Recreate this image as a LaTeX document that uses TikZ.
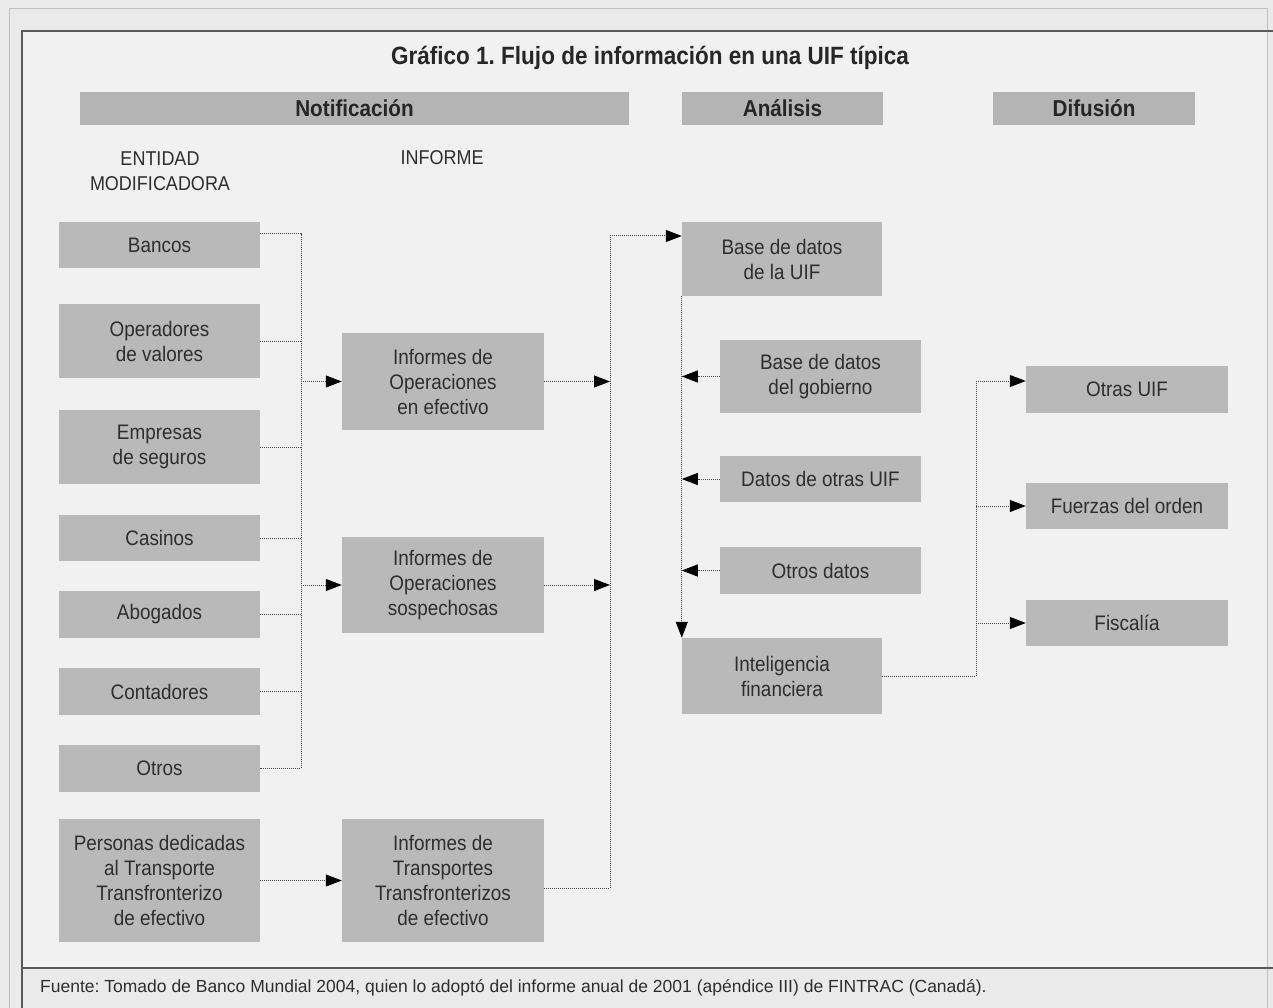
\documentclass[tikz,border=0pt]{standalone}
\usepackage{fontspec}
\setmainfont[FakeStretch=0.9]{Liberation Sans}
\newfontfamily\footfont{Liberation Sans}
\frenchspacing
\usetikzlibrary{arrows.meta}
\definecolor{bg}{HTML}{F1F1F1}
\definecolor{bgout}{HTML}{EAEAEA}
\definecolor{boxfill}{HTML}{B9B9B9}
\definecolor{hdrfill}{HTML}{B4B4B4}
\definecolor{txt}{HTML}{2E2E2E}
\definecolor{frame}{HTML}{5A5A5A}
\definecolor{dotc}{HTML}{4A4A4A}
\tikzset{
  gbox/.style={fill=boxfill, draw=none, inner sep=0pt, align=center, text=txt,
    font=\fontsize{21}{25}\selectfont},
  hdr/.style={fill=hdrfill, draw=none, inner sep=0pt, align=center, text=black!85,
    minimum height=33pt, font=\bfseries\fontsize{23}{27}\selectfont},
  lbl/.style={inner sep=0pt, align=center, text=txt, font=\fontsize{20}{25}\selectfont},
  dl/.style={draw=dotc, line width=1pt, dash pattern=on 1pt off 1pt},
  arr/.style={-{Triangle[length=16pt,width=12pt,color=black,fill=black]}},
}
\begin{document}
\begin{tikzpicture}[x=1pt,y=-1pt]
\useasboundingbox (0,0) rectangle (1273,1008);
% backgrounds and frame
\fill[bgout] (0,0) rectangle (1273,1008);
\draw[black!25, line width=1pt] (9,9) rectangle (1267,1008);
\fill[bg] (22,31) rectangle (1267,968);
\draw[frame, line width=2pt] (1273,31) -- (22,31) -- (22,1008);
\draw[frame, line width=2pt] (22,968) -- (1273,968);

% title
\node[inner sep=0pt, text=black!85, font=\bfseries\fontsize{25}{30}\selectfont] (title) at (650,58) {Gráfico 1. Flujo de información en una UIF típica};

% headers
\node[hdr, minimum width=549pt] (hnot) at (354.5,108.5) {Notificación};
\node[hdr, minimum width=201pt] (hana) at (782.5,108.5) {Análisis};
\node[hdr, minimum width=202pt] (hdif) at (1094,108.5) {Difusión};

% column labels
\node[lbl] (lent) at (160,171) {ENTIDAD\\MODIFICADORA};
\node[lbl] (linf) at (442,158) {INFORME};

% left column
\node[gbox, minimum width=201pt, minimum height=46pt] (bancos) at (159.5,245) {Bancos};
\node[gbox, minimum width=201pt, minimum height=74pt] (operadores) at (159.5,341) {Operadores\\de valores};
\node[gbox, minimum width=201pt, minimum height=74pt] (empresas) at (159.5,447) {Empresas\\de seguros};
\node[gbox, minimum width=201pt, minimum height=46pt] (casinos) at (159.5,538) {Casinos};
\node[gbox, minimum width=201pt, minimum height=47pt] (abogados) at (159.5,614.5) {Abogados};
\node[gbox, minimum width=201pt, minimum height=47pt] (contadores) at (159.5,691.5) {Contadores};
\node[gbox, minimum width=201pt, minimum height=47pt] (otros) at (159.5,768.5) {Otros};
\node[gbox, minimum width=201pt, minimum height=123pt] (personas) at (159.5,880.5) {Personas dedicadas\\al Transporte\\Transfronterizo\\de efectivo};

% middle column
\node[gbox, minimum width=202pt, minimum height=97pt] (ioe) at (443,381.5) {Informes de\\Operaciones\\en efectivo};
\node[gbox, minimum width=202pt, minimum height=96pt] (ios) at (443,585) {Informes de\\Operaciones\\sospechosas};
\node[gbox, minimum width=202pt, minimum height=123pt] (itt) at (443,880.5) {Informes de\\Transportes\\Transfronterizos\\de efectivo};

% analysis
\node[gbox, minimum width=200pt, minimum height=74pt] (bduif) at (782,259) {Base de datos\\de la UIF};
\node[gbox, minimum width=201pt, minimum height=73pt] (bdgob) at (820.5,376.5) {Base de datos\\del gobierno};
\node[gbox, minimum width=201pt, minimum height=46pt] (dou) at (820.5,479) {Datos de otras UIF};
\node[gbox, minimum width=201pt, minimum height=47pt] (od) at (820.5,570.5) {Otros datos};
\node[gbox, minimum width=200pt, minimum height=76pt] (intf) at (782,676) {Inteligencia\\financiera};

% diffusion
\node[gbox, minimum width=202pt, minimum height=47pt] (ouif) at (1127,389.5) {Otras UIF};
\node[gbox, minimum width=202pt, minimum height=46pt] (fo) at (1127,506) {Fuerzas del orden};
\node[gbox, minimum width=202pt, minimum height=46pt] (fis) at (1127,623) {Fiscalía};

% footer
\node[anchor=west, inner sep=0pt, text=txt, font=\footfont\fontsize{17.5}{20}\selectfont] (foot) at (40,988) {Fuente: Tomado de Banco Mundial 2004, quien lo adoptó del informe anual de 2001 (apéndice III) de FINTRAC (Canadá).};

% left bus
\coordinate (lt) at (301,234);
\coordinate (lb) at (301,768.5);
\draw[dl] (bancos.east |- lt) -- (lt) -- (lb) -- (otros.east);
\foreach \n in {operadores,empresas,casinos,abogados,contadores}
  \draw[dl] (\n.east) -- (\n.east -| lt);
\draw[dl,arr] (ioe.west -| lt) -- (ioe.west);
\draw[dl,arr] (ios.west -| lt) -- (ios.west);
\draw[dl,arr] (personas.east) -- (itt.west);

% middle bus
\coordinate (mt) at (610,236);
\coordinate (mb) at (610,888);
\draw[dl] (itt.east |- mb) -- (mb) -- (mt);
\draw[dl,arr] (mt) -- (mt -| bduif.west);
\draw[dl,arr] (ioe.east) -- (ioe.east -| mt);
\draw[dl,arr] (ios.east) -- (ios.east -| mt);

% analysis bus
\draw[dl,arr] (bduif.south west) -- (intf.north west);
\draw[dl,arr] (bdgob.west) -- (bdgob.west -| bduif.west);
\draw[dl,arr] (dou.west) -- (dou.west -| bduif.west);
\draw[dl,arr] (od.west) -- (od.west -| bduif.west);

% diffusion bus
\coordinate (dt) at (976,381);
\draw[dl] (intf.east) -- (intf.east -| dt) -- (dt);
\draw[dl,arr] (dt) -- (dt -| ouif.west);
\draw[dl,arr] (fo.west -| dt) -- (fo.west);
\draw[dl,arr] (fis.west -| dt) -- (fis.west);
\end{tikzpicture}
\end{document}
